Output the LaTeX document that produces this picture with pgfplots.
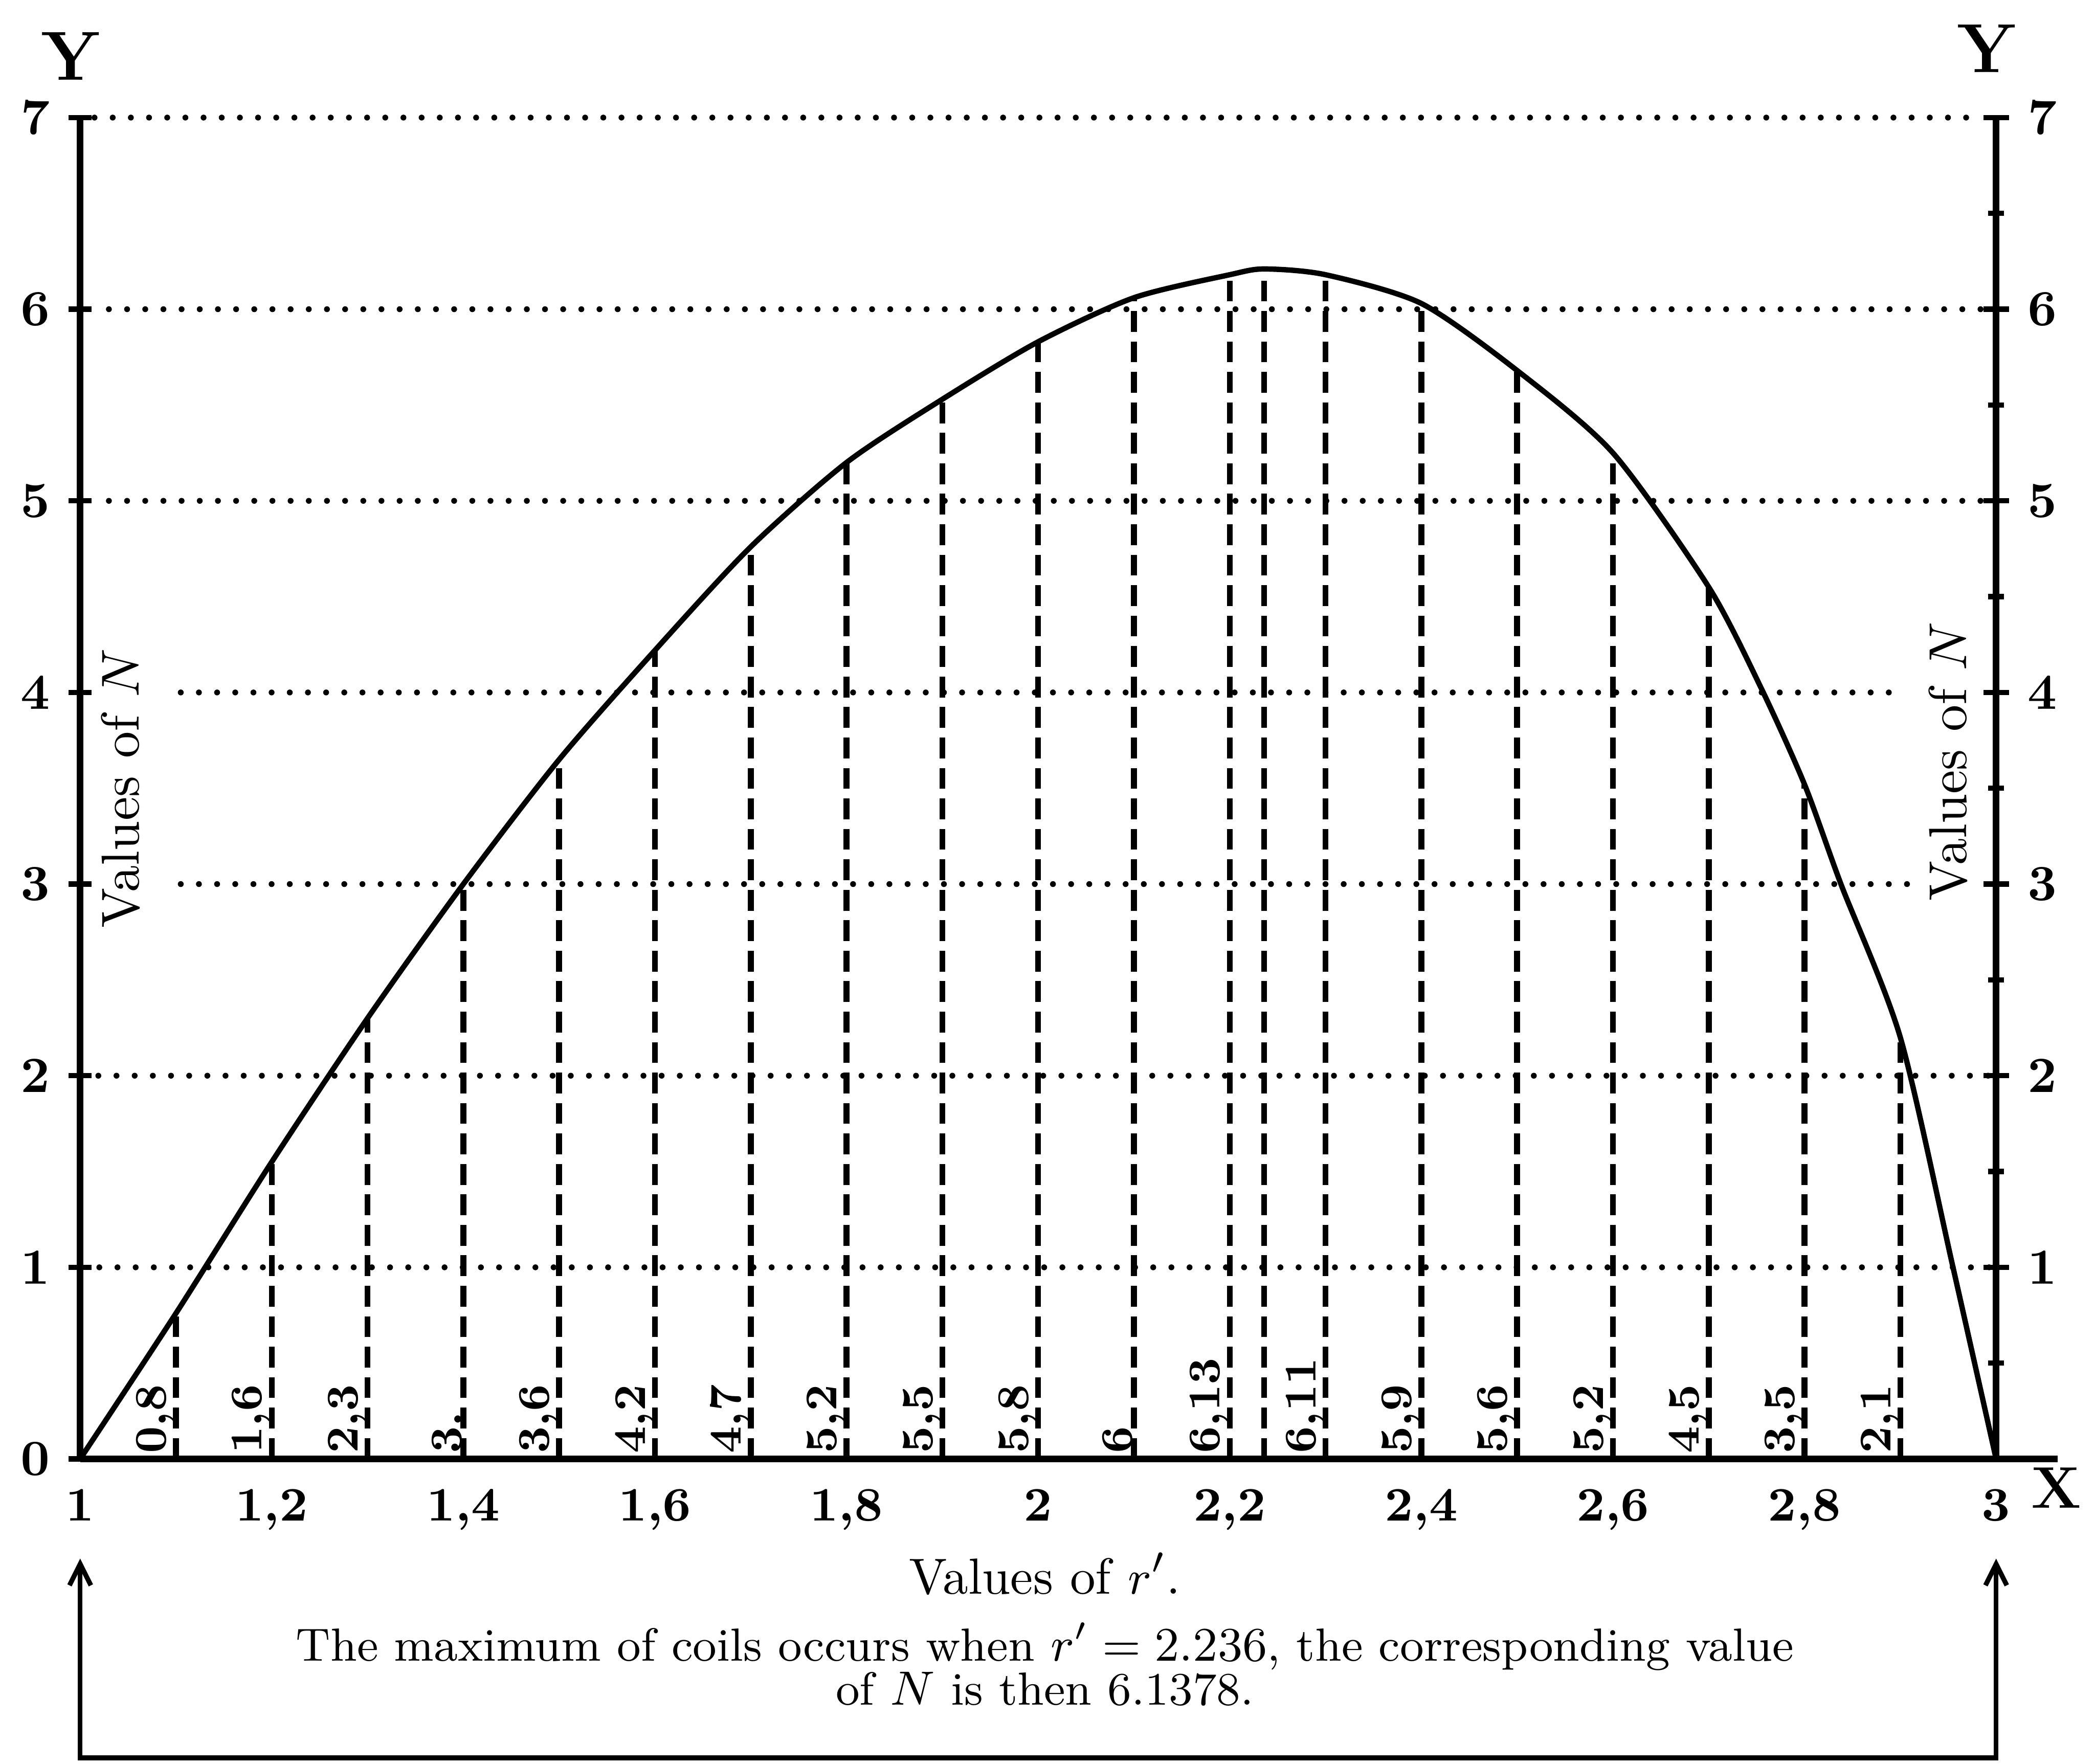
\documentclass[border=0pt]{standalone}
\usepackage{pgfplots}
\pgfplotsset{compat=1.18}
\usepackage{pgfplotstable}
\usetikzlibrary{arrows.meta}

% curve N(r') as drawn
\pgfplotstableread{
x y
1.0 0
1.1 0.76
1.2 1.55
1.3 2.30
1.4 3.00
1.5 3.65
1.6 4.22
1.7 4.76
1.8 5.20
1.9 5.53
2.0 5.83
2.1 6.06
2.2 6.18
2.236 6.21
2.3 6.18
2.4 6.03
2.5 5.68
2.6 5.25
2.7 4.55
2.755 4.02
2.8 3.52
2.838 3.00
2.9 2.20
2.955 1.00
3.0 0
}\curvedata

% ordinates with their written values
\pgfplotstableread{
x y ly lab
1.1 0.76 0.06 0,8
1.2 1.55 0.06 1,6
1.3 2.30 0.06 2,3
1.4 3.00 0.06 3.
1.5 3.65 0.06 3,6
1.6 4.22 0.06 4,2
1.7 4.76 0.06 4,7
1.8 5.20 0.06 5,2
1.9 5.53 0.06 5,5
2.0 5.83 0.06 5,8
2.1 6.06 0.06 6
2.2 6.18 0.06 6,13
2.3 6.18 0.06 6,11
2.4 6.03 0.06 5,9
2.5 5.68 0.06 5,6
2.6 5.25 0.06 5,2
2.7 4.55 0.06 4,5
2.8 3.52 0.06 3,5
2.9 2.20 0.06 2,1
}\vertdata

\begin{document}
\begin{tikzpicture}
\useasboundingbox (-15pt,-57pt) rectangle (377pt,273pt);
\begin{axis}[
  at={(0pt,0pt)}, anchor=south west,
  scale only axis, width=358.5pt, height=251pt,
  xmin=1, xmax=3, ymin=0, ymax=7,
  clip=false,
  axis x line*=bottom, axis y line*=left,
  x axis line style={line width=1.2pt, shorten >=-11.5pt},
  y axis line style={line width=1.2pt},
  xtick={1,1.2,1.4,1.6,1.8,2,2.2,2.4,2.6,2.8,3},
  xticklabels={1,{1,2},{1,4},{1,6},{1,8},2,{2,2},{2,4},{2,6},{2,8},3},
  ytick={0,1,2,3,4,5,6,7},
  x tick style={draw=none},
  y tick style={line width=1pt, black},
  tick align=center, major tick length=4.3pt,
  /pgf/number format/assume math mode=true,
  xticklabel style={font=\fontsize{9}{10}\selectfont\bfseries},
  yticklabel style={font=\fontsize{9.5}{10}\selectfont\bfseries},
  dotln/.style={line width=1.1pt, dash pattern=on 0pt off 3.4pt, line cap=round, mark=none},
]
% dotted horizontal guide lines
\addplot[dotln] coordinates {(1.015,7) (2.975,7)};
\addplot[dotln] coordinates {(1.03,6) (2.995,6)};
\addplot[dotln] coordinates {(1.03,5) (2.995,5)};
\addplot[dotln] coordinates {(1.105,4) (2.9,4)};
\addplot[dotln] coordinates {(1.105,3) (2.915,3)};
\addplot[dotln] coordinates {(1.0,2) (2.995,2)};
\addplot[dotln] coordinates {(1.02,1) (2.995,1)};
% dashed ordinates
\addplot[ycomb, mark=none, line width=1.1pt, dash pattern=on 3.9pt off 1.8pt] table[x=x, y=y] {\vertdata};
\addplot[ycomb, mark=none, line width=1.1pt, dash pattern=on 3.9pt off 1.8pt] coordinates {(2.236,6.21)};
% curve
\addplot[mark=none, line width=1pt, smooth, tension=0.45] table[x=x, y=y] {\curvedata};
% written values
\addplot[draw=none, mark=none, point meta=explicit symbolic,
  nodes near coords,
  nodes near coords style={rotate=90, anchor=south west, inner sep=0pt, xshift=-1.3pt,
    font=\fontsize{8.5}{9}\selectfont\bfseries}]
  table[x=x, y=ly, meta=lab] {\vertdata};
% labels
\node[inner sep=0pt, font=\fontsize{13}{13}\selectfont\bfseries] at (axis cs:0.99,7.32) {Y};
\node[inner sep=0pt, font=\fontsize{13}{13}\selectfont\bfseries] at (axis cs:2.99,7.36) {Y};
\node[font=\fontsize{11}{11}\selectfont\bfseries] at (axis cs:3.063,-0.15) {X};
\node[rotate=90, font=\fontsize{10}{10}\selectfont] at (axis cs:1.042,3.5) {Values of $N$};
\node[rotate=90, font=\fontsize{10}{10}\selectfont] at (axis cs:2.95,3.64) {Values of $N$};
\node[anchor=base, font=\fontsize{9.5}{10}\selectfont] at (axis cs:2.007,-0.704) {Values of $r'$.};
\node[anchor=base, font=\fontsize{8.7}{9}\selectfont] at (axis cs:2.007,-1.053) {The maximum of coils occurs when $r'=2.236$, the corresponding value};
\node[anchor=base, font=\fontsize{8.7}{9}\selectfont] at (axis cs:2.007,-1.283) {of $N$ is then 6.1378.};
\draw[line width=0.9pt, {Straight Barb[length=4pt,width=4pt]}-{Straight Barb[length=4pt,width=4pt]}]
  (axis cs:1,-0.52) -- (axis cs:1,-1.56) -- (axis cs:3,-1.56) -- (axis cs:3,-0.52);
\end{axis}
\begin{axis}[
  at={(0pt,0pt)}, anchor=south west,
  scale only axis, width=358.5pt, height=251pt,
  xmin=1, xmax=3, ymin=0, ymax=7,
  axis x line=none, axis y line*=right,
  y axis line style={line width=1.2pt},
  ytick={1,2,3,4,5,6,7},
  minor ytick={0.5,1.5,2.5,3.5,4.5,5.5,6.5},
  y tick style={line width=1pt, black},
  major tick length=4.8pt, minor tick length=3pt,
  tick align=center,
  /pgf/number format/assume math mode=true,
  yticklabel style={font=\fontsize{9.5}{10}\selectfont\bfseries},
]
\end{axis}
\end{tikzpicture}
\end{document}
